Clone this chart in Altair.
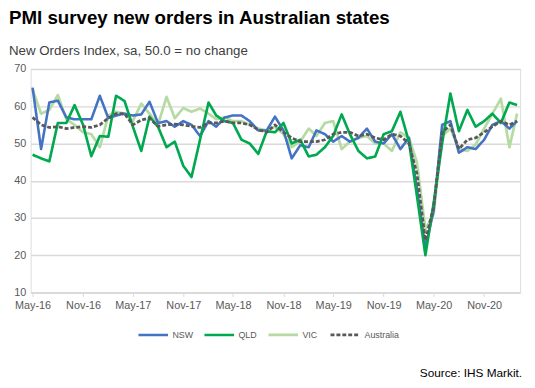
import altair as alt
import pandas as pd

months = pd.date_range("2016-05-01", "2021-03-01", freq="MS").strftime("%Y-%m-%d").tolist()

nsw = [65, 48.5, 61, 61.5, 57, 56.5, 56.5, 56.5, 62.8, 56.8,
       57.5, 58, 57.5, 57.8, 61.2, 55.5, 56, 54.5, 56, 55,
       52, 56, 54.5, 57, 57.5, 57.5, 56, 53.5, 53.5, 57.2,
       53.5, 46, 49.5, 49, 53.5, 52.5, 50.5, 52, 50.5, 51.5,
       54, 50.5, 50, 52.5, 48.5, 51.5, 38, 22, 32, 55,
       56, 47.5, 49, 48.5, 51, 55, 56, 54, 56]
qld = [47, 46, 45.2, 55.5, 55.5, 60.3, 55, 46.6, 52, 51.8,
       62.8, 61.4, 54.6, 48, 57.2, 54.5, 49, 50.5, 44, 41,
       51, 61, 57.5, 56, 55.5, 51, 50, 47.2, 53.3, 53,
       55.5, 50, 51, 46.5, 47, 49, 52, 57.8, 52.5, 48,
       46, 46.5, 52.5, 53.3, 58.5, 50.5, 36, 20, 34, 50,
       63.4, 53.3, 59, 54.5, 56, 58, 55.5, 61, 60.3]
vic = [64.5, 58, 59, 63, 56.5, 55, 53, 52.5, 49, 57.5,
       58.5, 58, 56, 60.7, 58, 55, 62.5, 56.8, 59.5, 58.5,
       59.4, 58, 56.5, 57, 56, 56, 55, 54, 53.5, 54.5,
       52.5, 49, 50.5, 54, 52, 55.5, 56, 48.5, 50.5, 51.5,
       52, 50, 50, 48, 53, 51.5, 45, 27, 31, 52,
       54, 48.5, 48, 49.7, 54, 58, 62, 49, 58]
aus = [57, 55, 54.3, 54.5, 54, 54.3, 54.5, 54.3, 55, 56.8,
       58, 58, 55, 56.3, 56.8, 54.6, 55, 55.2, 55, 54.6,
       54.3, 55.5, 55.5, 56, 55.5, 55.5, 55, 53.7, 53, 55,
       53, 51.5, 50.5, 50.5, 50.5, 51, 52.5, 53, 53, 52,
       52.5, 51.5, 51, 52.5, 52, 50, 42, 24, 33, 53,
       55, 48.5, 51, 51.5, 53, 54.5, 56, 55, 56]

tick_dates = ["2016-05-01", "2016-11-01", "2017-05-01", "2017-11-01", "2018-05-01",
              "2018-11-01", "2019-05-01", "2019-11-01", "2020-05-01", "2020-11-01"]
y_ticks = [10, 20, 30, 40, 50, 60, 70]

series_names = ["NSW", "QLD", "VIC", "Australia"]
series_colors = ["#4472c4", "#00a84f", "#b5dba3", "#595959"]
draw_order = ["VIC", "NSW", "QLD", "Australia"]
values = {"NSW": nsw, "QLD": qld, "VIC": vic, "Australia": aus}

rows = []
for s in draw_order:
    for m, v in zip(months, values[s]):
        rows.append({"date": m, "series": s, "value": v})
df = pd.DataFrame(rows)

source_text = "Source: IHS Markit."

lines = alt.Chart(df).mark_line(strokeJoin="round").encode(
    x=alt.X("date:T",
            scale=alt.Scale(type="utc", domain=["2016-04-24", "2021-03-12"]),
            axis=alt.Axis(values=[alt.DateTime(year=int(d[:4]), month=int(d[5:7]), date=1, utc=True) for d in tick_dates],
                          labelExpr="utcFormat(datum.value, '%b-%y')", title=None, grid=False,
                          domainColor="#d9d9d9", domainWidth=1.5,
                          tickColor="#d9d9d9", tickSize=4, labelColor="#595959",
                          labelFontSize=11, labelPadding=3, labelFont="Liberation Sans")),
    y=alt.Y("value:Q",
            scale=alt.Scale(domain=[10, 70], nice=False, zero=False),
            axis=alt.Axis(values=y_ticks, title=None, domain=False, ticks=False,
                          gridColor="#d9d9d9", gridWidth=1.5, labelColor="#595959",
                          labelFontSize=11, labelPadding=5, labelFont="Liberation Sans")),
    color=alt.Color("series:N",
                    scale=alt.Scale(domain=series_names, range=series_colors),
                    legend=alt.Legend(title=None, orient="none", direction="horizontal",
                                      legendX=108, legendY=253, symbolType="stroke",
                                      symbolSize=900, symbolStrokeWidth=2.5,
                                      labelFontSize=9, labelColor="#595959",
                                      labelFont="Liberation Sans", columnPadding=6,
                                      labelOffset=3)),
    strokeDash=alt.StrokeDash("series:N",
                              scale=alt.Scale(domain=series_names,
                                              range=[[1, 0], [1, 0], [1, 0], [4, 2]]),
                              legend=alt.Legend(title=None, orient="none")),
    strokeWidth=alt.StrokeWidth("series:N",
                                scale=alt.Scale(domain=series_names, range=[2.6, 2.8, 2.2, 1.8]),
                                legend=None),
    order=alt.Order("date:T"),
    detail="series:N",
)

src = alt.Chart(pd.DataFrame({"t": [source_text]})).mark_text(
    align="right", baseline="middle", fontSize=12, color="#000000", font="Liberation Sans"
).encode(text="t:N", x=alt.value(499), y=alt.value(309))

chart = alt.layer(lines, src).properties(
    width=497, height=227,
    padding={"left": 23, "top": 59, "right": 7, "bottom": 90},
    autosize=alt.AutoSizeParams(type="none"),
    title=alt.TitleParams(
        text="PMI survey new orders in Australian states",
        subtitle="New Orders Index, sa, 50.0 = no change",
        anchor="start", frame="group", dx=-22, offset=6,
        font="Liberation Sans", fontSize=19, fontWeight="bold", color="#000000",
        subtitleFont="Liberation Sans", subtitleFontSize=13.5, subtitleColor="#404040",
        subtitlePadding=16,
    ),
).configure_view(stroke=None).configure(background="white")

chart.save("out.html", embed_options={"renderer": "svg", "actions": False})
